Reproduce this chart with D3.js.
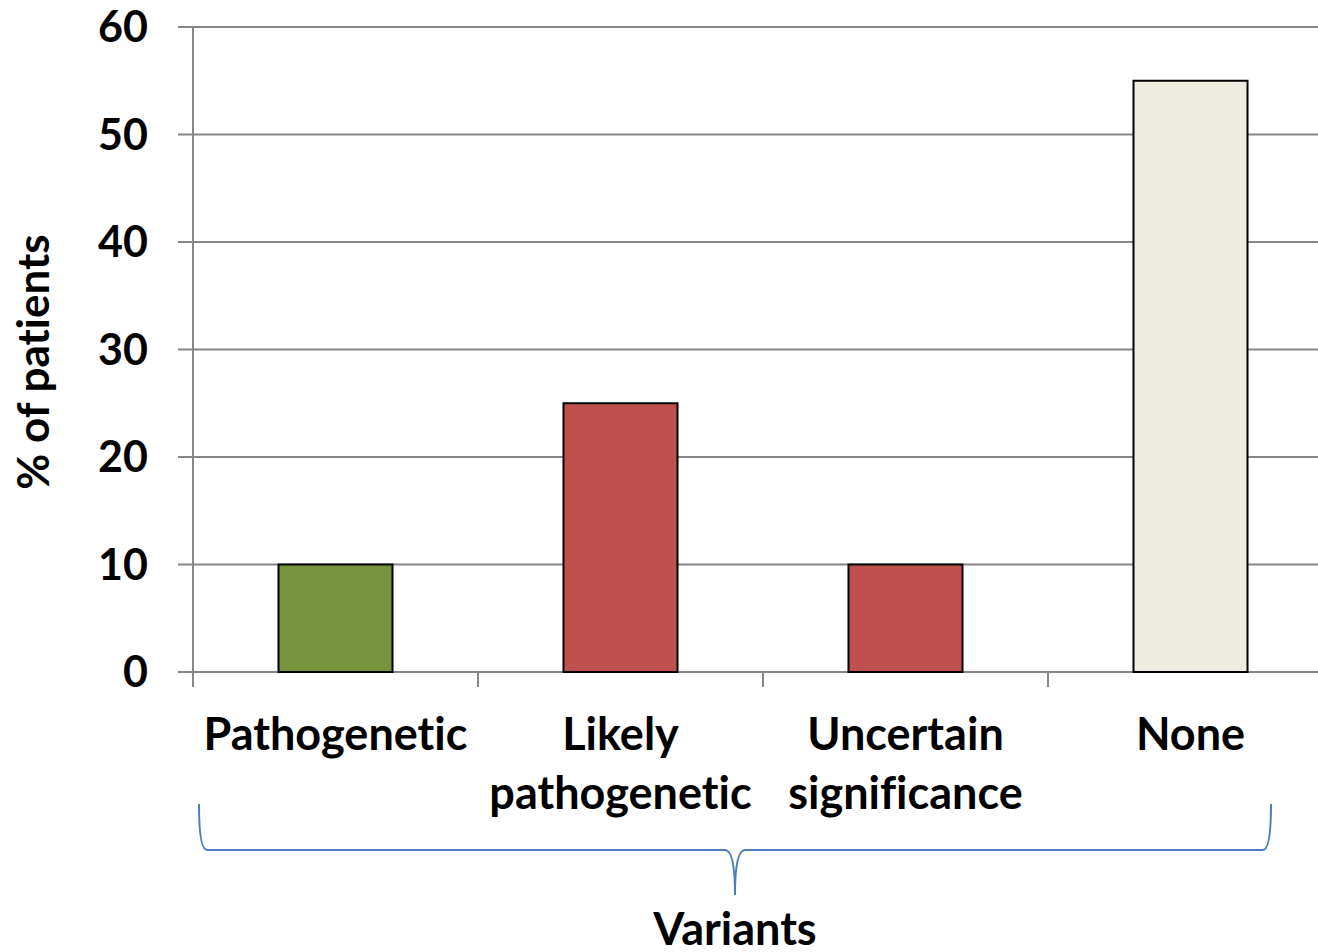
<!DOCTYPE html>
<html>
<head>
<meta charset="utf-8">
<script src="https://cdn.jsdelivr.net/npm/d3@7"></script>
<style>
  html, body { margin: 0; padding: 0; background: #fff; }
  svg { display: block; }
  text { font-family: Lato, "Open Sans", sans-serif; font-weight: bold; fill: #000; font-variant-ligatures: none; }
</style>
</head>
<body>
<svg id="chart" width="1318" height="952"></svg>
<script>
// Share of patients by variant classification
const categories = ["Pathogenetic", "Likely pathogenetic", "Uncertain significance", "None"];
const labelLines = [["Pathogenetic"], ["Likely", "pathogenetic"], ["Uncertain", "significance"], ["None"]];
const values = [10, 25, 10, 55];
const barColors = ["#77933C", "#C0504D", "#C0504D", "#EEECE1"];
const yTicks = [0, 10, 20, 30, 40, 50, 60];
const yTitle = "% of patients";
const groupTitle = "Variants";

const svg = d3.select("#chart");
const plotLeft = 193, plotTop = 27, plotBottom = 672;
const bandW = 285;
const plotRight = plotLeft + bandW * categories.length;

const x = d3.scaleBand().domain(categories).range([plotLeft, plotRight]).paddingInner(0.6).paddingOuter(0.3);
const y = d3.scaleLinear().domain([0, 60]).range([plotBottom, plotTop]);

const gridColor = "#868686";

// horizontal gridlines with left tick stubs
svg.append("g").selectAll("line").data(yTicks).join("line")
  .attr("x1", plotLeft - 15).attr("x2", 1318)
  .attr("y1", d => y(d)).attr("y2", d => y(d))
  .attr("stroke", gridColor).attr("stroke-width", 2);

// vertical axis line
svg.append("line")
  .attr("x1", plotLeft).attr("x2", plotLeft).attr("y1", plotTop).attr("y2", plotBottom + 15)
  .attr("stroke", gridColor).attr("stroke-width", 2);

// category boundary ticks below the baseline
const boundaries = d3.range(1, categories.length).map(i => plotLeft + bandW * i);
svg.append("g").selectAll("line").data(boundaries).join("line")
  .attr("x1", d => d).attr("x2", d => d).attr("y1", plotBottom).attr("y2", plotBottom + 15)
  .attr("stroke", gridColor).attr("stroke-width", 2);

// y tick labels
svg.append("g").selectAll("text").data(yTicks).join("text")
  .attr("x", 148).attr("y", d => y(d))
  .attr("dy", "0.36em")
  .attr("text-anchor", "end")
  .style("font-size", "43px")
  .text(d => d);

// bars
svg.append("g").selectAll("rect").data(values).join("rect")
  .attr("x", (d, i) => x(categories[i]))
  .attr("width", x.bandwidth())
  .attr("y", d => y(d))
  .attr("height", d => y(0) - y(d))
  .attr("fill", (d, i) => barColors[i])
  .attr("stroke", "#000").attr("stroke-width", 2);

// category labels
const lab = svg.append("g").selectAll("text").data(labelLines).join("text")
  .attr("text-anchor", "middle")
  .style("font-size", "45px");
lab.each(function(lines, i) {
  const cx = x(categories[i]) + x.bandwidth() / 2;
  d3.select(this).selectAll("tspan").data(lines).join("tspan")
    .attr("x", cx)
    .attr("y", (l, j) => 750 + j * 59)
    .text(l => l);
});

// y axis title
svg.append("text")
  .attr("transform", "translate(49,362) rotate(-90)")
  .attr("text-anchor", "middle")
  .style("font-size", "44px")
  .text(yTitle);

// curly brace grouping the categories
const bx0 = 199, bx1 = 1271, bmid = (bx0 + bx1) / 2, bTop = 804, bLine = 850, bTip = 895;
const brace = d3.path();
brace.moveTo(bx0, bTop);
brace.quadraticCurveTo(bx0, bLine, bx0 + 8, bLine);
brace.lineTo(bmid - 10, bLine);
brace.quadraticCurveTo(bmid, bLine, bmid, bTip);
brace.quadraticCurveTo(bmid, bLine, bmid + 10, bLine);
brace.lineTo(bx1 - 8, bLine);
brace.quadraticCurveTo(bx1, bLine, bx1, bTop);
svg.append("path")
  .attr("d", brace.toString())
  .attr("fill", "none")
  .attr("stroke", "#4A7EBB")
  .attr("stroke-width", 2);

svg.append("text")
  .attr("x", bmid).attr("y", 945)
  .attr("text-anchor", "middle")
  .style("font-size", "45px")
  .text(groupTitle);
</script>
</body>
</html>
